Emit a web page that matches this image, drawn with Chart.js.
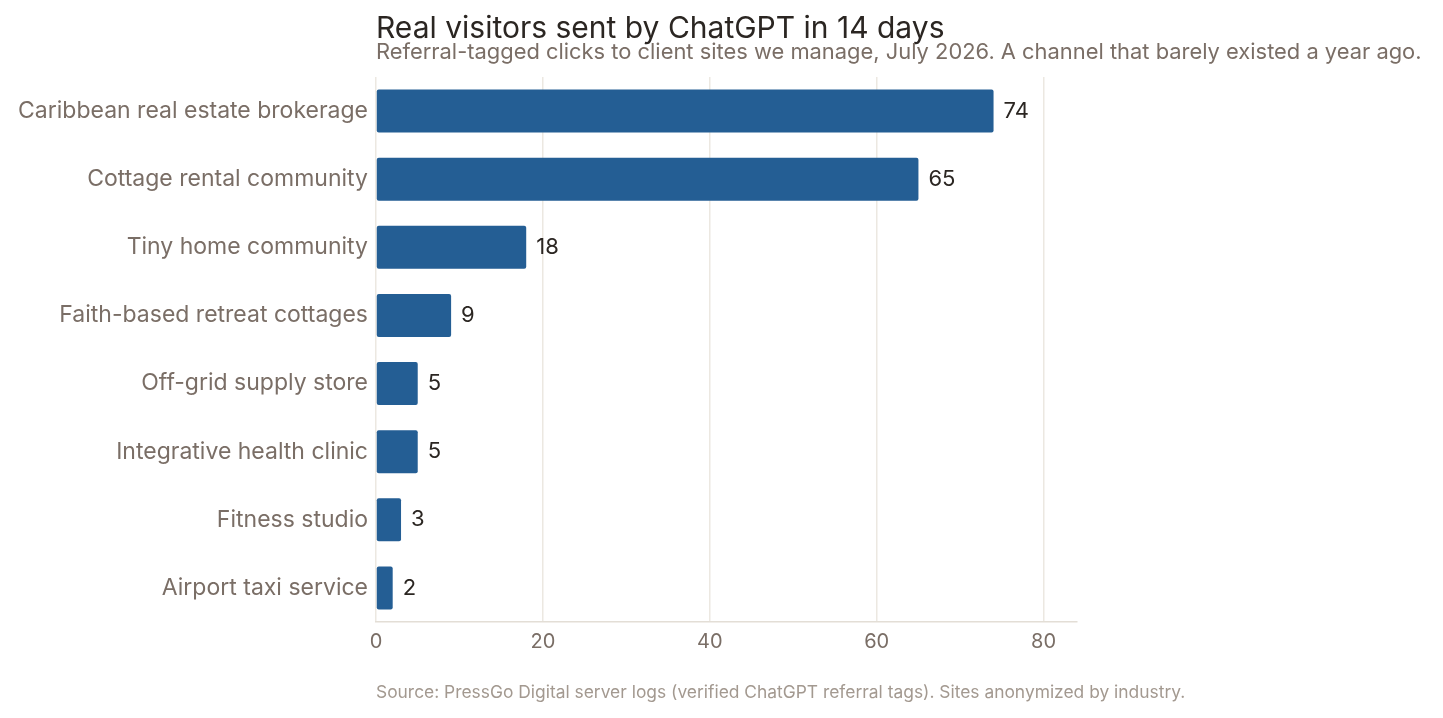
<!DOCTYPE html>
<html>
<head>
<meta charset="utf-8">
<script src="https://cdn.jsdelivr.net/npm/chart.js@4"></script>
<style>
  html, body { margin: 0; padding: 0; background: #fff; }
  #wrap { width: 1443px; height: 718px; position: relative; }
</style>
</head>
<body>
<div id="wrap"><canvas id="visitsChart" width="1443" height="718"></canvas></div>
<script>
// data
const categories = [
  'Caribbean real estate brokerage',
  'Cottage rental community',
  'Tiny home community',
  'Faith-based retreat cottages',
  'Off-grid supply store',
  'Integrative health clinic',
  'Fitness studio',
  'Airport taxi service'
];
const visitors = [74, 65, 18, 9, 5, 5, 3, 2];
const xTicks = [0, 20, 40, 60, 80];

const titleText = 'Real visitors sent by ChatGPT in 14 days';
const subtitleText = 'Referral-tagged clicks to client sites we manage, July 2026. A channel that barely existed a year ago.';
const sourceText = 'Source: PressGo Digital server logs (verified ChatGPT referral tags). Sites anonymized by industry.';

const FONT = 'Inter, "DejaVu Sans", sans-serif';

// title, subtitle, source and value labels
const textPlugin = {
  id: 'texts',
  afterDatasetsDraw(chart) {
    const ctx = chart.ctx;
    const left = chart.chartArea.left;
    ctx.save();
    ctx.textAlign = 'left';
    ctx.textBaseline = 'alphabetic';
    ctx.fillStyle = '#2b2622';
    ctx.font = '30px ' + FONT;
    ctx.fillText(titleText, left, 38);
    ctx.fillStyle = '#7a6e66';
    ctx.font = '21.9px ' + FONT;
    ctx.fillText(subtitleText, left, 59);
    ctx.fillStyle = '#a39990';
    ctx.font = '17.4px ' + FONT;
    ctx.fillText(sourceText, left, 698);

    // value labels at bar ends
    const meta = chart.getDatasetMeta(0);
    ctx.fillStyle = '#2b2622';
    ctx.font = '22px ' + FONT;
    ctx.textBaseline = 'middle';
    meta.data.forEach((bar, i) => {
      ctx.fillText(String(visitors[i]), bar.x + 10, bar.y);
    });
    ctx.restore();
  }
};

const ctxVisits = document.getElementById('visitsChart').getContext('2d');
const visitsChart = new Chart(ctxVisits, {
  type: 'bar',
  data: {
    labels: categories,
    datasets: [{
      data: visitors,
      backgroundColor: '#245e94',
      borderRadius: 2,
      borderSkipped: false,
      categoryPercentage: 1,
      barPercentage: 0.63
    }]
  },
  options: {
    indexAxis: 'y',
    responsive: false,
    animation: false,
    devicePixelRatio: 1,
    layout: { padding: { top: 77, right: 366, left: 0, bottom: 0 } },
    plugins: {
      legend: { display: false },
      tooltip: { enabled: false }
    },
    scales: {
      x: {
        min: 0,
        max: 84,
        afterBuildTicks: (scale) => { scale.ticks = xTicks.map(v => ({ value: v })); },
        afterFit: (scale) => { scale.height = 96; },
        grid: { color: '#ece8e1', lineWidth: 1.5, drawTicks: false },
        border: { color: '#e3ded6', width: 1.5 },
        ticks: { color: '#7a6e66', font: { family: FONT, size: 20 }, padding: 8 }
      },
      y: {
        afterFit: (scale) => { scale.width = 376; },
        grid: { display: false },
        border: { display: false },
        ticks: { color: '#7a6e66', font: { family: FONT, size: 23 }, padding: 0 }
      }
    }
  },
  plugins: [textPlugin]
});
</script>
</body>
</html>
